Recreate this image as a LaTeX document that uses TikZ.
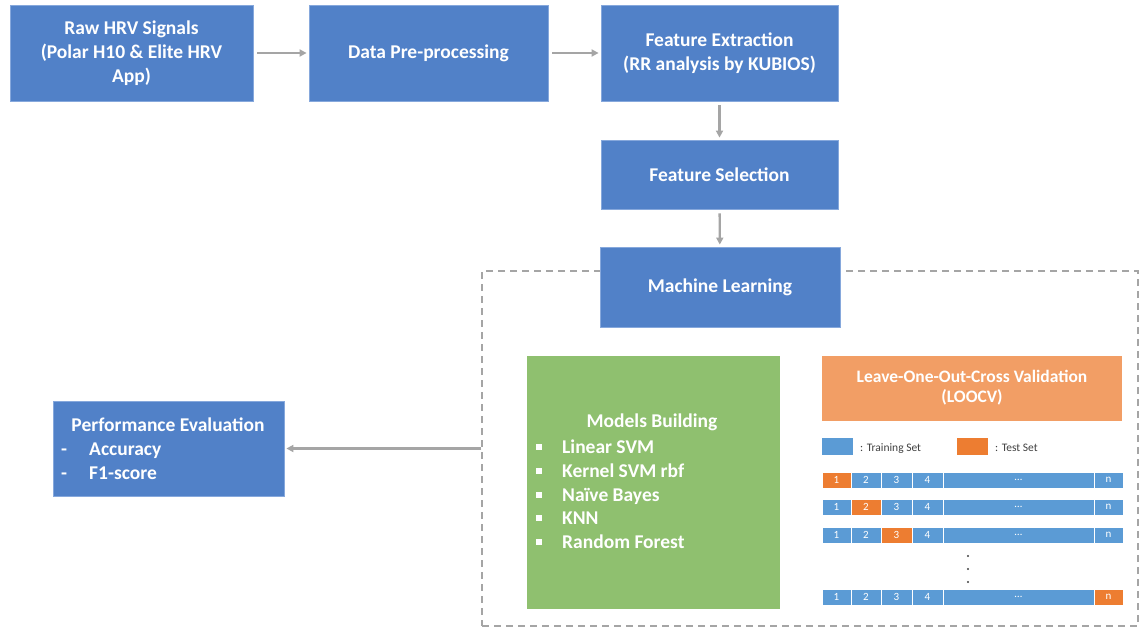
\documentclass[tikz,border=0pt]{standalone}
\usepackage{fontspec}
\setmainfont{Carlito}
\definecolor{boxblue}{HTML}{5181C8}
\definecolor{boxedge}{HTML}{86A8DC}
\definecolor{modelgreen}{HTML}{8FC06F}
\definecolor{loocvorange}{HTML}{F29E65}
\definecolor{cellblue}{HTML}{5B9BD5}
\definecolor{cellorange}{HTML}{ED7D31}
\definecolor{arrowgray}{HTML}{A5A5A5}
\definecolor{legendtext}{HTML}{404040}
\usetikzlibrary{arrows.meta}

\begin{document}
\begin{tikzpicture}[x=1pt,y=-1pt,>={Triangle[length=7pt,width=7pt]},
  every node/.style={font=\bfseries\fontsize{19.5}{24}\selectfont,text=white},
  stagebox/.style={draw=boxedge,fill=boxblue,rectangle,align=center,line width=0.8pt,inner sep=0pt},
  flow/.style={->,draw=arrowgray,line width=2.4pt,shorten <=4pt,shorten >=2pt},
  cell/.style={draw=white,line width=0.7pt,minimum height=16pt,inner sep=0pt,font=\fontsize{11}{12}\selectfont},
  legendbox/.style={minimum width=31pt,minimum height=17pt,inner sep=0pt},
  legendlabel/.style={anchor=base west,text=legendtext,font=\fontsize{11.5}{14}\selectfont,inner sep=0pt},
  itemlabel/.style={anchor=base west,inner sep=0pt}]
\useasboundingbox (0,0) rectangle (1139,628);

% dashed frame round the learning part
\node[draw=arrowgray,dashed,dash pattern=on 7pt off 5pt,line width=1.4pt,minimum width=656pt,minimum height=355pt,inner sep=0pt] (frame) at (810,448.5) {};

% pipeline
\node[stagebox,minimum width=243pt,minimum height=96pt] (raw) at (131.5,53) {Raw HRV Signals\\(Polar H10 \& Elite HRV\\App)};
\node[stagebox,minimum width=239pt,minimum height=96pt] (prep) at (428.5,53) {Data Pre-processing};
\node[stagebox,minimum width=237pt,minimum height=96pt] (extract) at (719.5,53) {Feature Extraction\\(RR analysis by KUBIOS)};
\node[stagebox,minimum width=237pt,minimum height=69pt] (select) at (719.5,174.5) {Feature Selection};
\node[stagebox,minimum width=240pt,minimum height=80pt] (learn) at (720,287) {Machine Learning};
\node[stagebox,minimum width=231pt,minimum height=95pt] (perf) at (168.5,448.5) {};

\draw[flow] (raw) -- (prep);
\draw[flow] (prep) -- (extract);
\draw[flow] (extract) -- (select);
\draw[flow] (select) -- (learn);
\draw[flow,shorten <=0pt] (frame.west) -- (perf.east);

% evaluation text
\node (perftitle) at (168,425) {Performance Evaluation};
\node[itemlabel] (dash1) at (61,455.5) {-};
\node[itemlabel] (acc) at (89,455.5) {Accuracy};
\node[itemlabel] (dash2) at (61,479.5) {-};
\node[itemlabel] (f1) at (89,479.5) {F1-score};

% models
\node[fill=modelgreen,draw=white,minimum width=254pt,minimum height=254pt,inner sep=0pt] (models) at (653,482) {};
\node (modeltitle) at (652,422) {Models Building};
\foreach \i/\y/\name in {1/447/Linear SVM,2/471/Kernel SVM rbf,3/495/Naïve Bayes,4/518/KNN,5/542/Random Forest}{
  \node[fill=white,minimum size=5.5pt,inner sep=0pt] (bullet\i) at (539,\y) {};
  \node[itemlabel] (model\i) at (562,\y+6.5) {\name};
}

% cross validation
\node[fill=loocvorange,minimum width=300pt,minimum height=65pt,inner sep=0pt,align=center,font=\bfseries\fontsize{17.5}{20}\selectfont] (loocv) at (972,388) {Leave-One-Out-Cross Validation\\(LOOCV)};
\node[legendbox,fill=cellblue] (trainkey) at (837.5,446.5) {};
\node[legendlabel] (trainlabel) at (860,451) {: Training Set};
\node[legendbox,fill=cellorange] (testkey) at (972.5,446) {};
\node[legendlabel] (testlabel) at (995,451) {: Test Set};

\foreach \r/\y/\t in {1/480/1,2/507/2,3/535/3,4/597/6}{
  \foreach \c/\x/\w/\lab in {1/836.5/29/1,2/866/30/2,3/896.5/31/3,4/927.5/31/4,5/1018.5/151/\ldots,6/1108.5/29/n}{
    \ifnum\c=\t \def\cellfill{cellorange}\else\def\cellfill{cellblue}\fi
    \node[cell,fill=\cellfill,minimum width=\w pt] (cell-\r-\c) at (\x,\y) {\lab};
  }
}
\foreach \y in {556,569,582}
  \fill[legendtext] (968,\y) circle (1.1pt);
\end{tikzpicture}
\end{document}
